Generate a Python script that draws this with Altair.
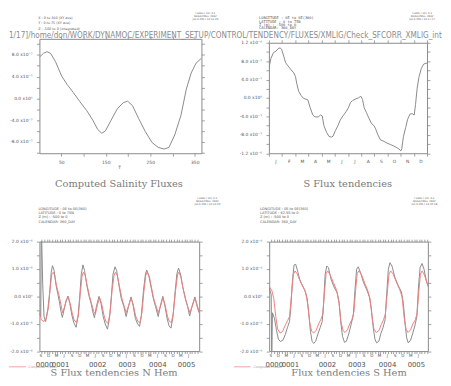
import altair as alt
import pandas as pd

# ---------------- data ----------------
# Panel 1: Computed Salinity Fluxes (units of 1e-7) against T
p1_t = [1, 10, 18, 26, 37, 51, 63, 77, 92, 107, 121, 132, 141, 149, 162, 176, 189, 199, 210,
        224, 239, 254, 268, 281, 292, 305, 319, 331, 342, 353, 365]
p1_v = [7.6, 8.3, 8.6, 8.3, 6.8, 4.1, 2.6, 1.1, -0.6, -2.2, -4.0, -5.7, -6.4, -6.0, -4.0, -1.9,
        -0.8, -0.5, -1.3, -3.7, -6.1, -8.1, -9.0, -9.3, -9.0, -6.7, -3.1, 1.7, 4.7, 6.5, 7.4]

# Panel 2: S Flux tendencies (units of 1e-7) against day of a 360-day year
p2_d = [0, 4.5, 10.4, 15.7, 20.9, 25.3, 29, 34.3, 38, 43.2, 49.2, 56.6, 60.4, 64, 67.8, 73, 79,
        84.2, 88.7, 94, 99.9, 105, 112.5, 117.8, 121.5, 125.2, 131.2, 136.4, 142.4, 146, 151.3,
        157.3, 162.5, 168.4, 175.9, 181.1, 185.6, 190.8, 198.3, 204.2, 209.4, 213.2, 216.9,
        222.1, 228.1, 233.3, 239.2, 243, 248.2, 254.1, 261.6, 269, 276.5, 284, 291.4, 296.6,
        300.4, 302.6, 306.3, 311.5, 316, 321.2, 326.4, 330.9, 333.9, 337.6, 342, 347.2, 352.4, 360]
p2_v = [6.44, 8.58, 9.86, 10.15, 10.7, 10.9, 10.6, 8.9, 7.7, 7.0, 6.3, 5.45, 4.7, 2.9, 1.46, 0.6,
        -0.1, -0.25, -0.4, -2.1, -3.67, -4.1, -4.1, -3.67, -3.9, -6.0, -7.44, -8.3, -8.5, -8.3,
        -7.1, -6.0, -4.8, -3.9, -2.96, -2.1, -1.03, -0.53, -0.18, 0.04, 0.39, -0.3, -2.1, -3.17,
        -4.45, -5.5, -6.0, -6.7, -8.0, -9.1, -9.4, -9.8, -10.1, -10.4, -10.8, -11.1, -11.5, -11.0,
        -8.4, -6.4, -4.6, -3.5, -3.4, -3.7, -1.4, 2.17, 4.66, 6.44, 7.37, 7.6]

# Panel 3: S Flux tendencies N Hem (units of 1e-6), months since start of year 0000
p3_gm = [8.12, 8.63, 8.88, 9.38, 9.89, 10.52, 11.40, 12.16, 12.67, 13.17,
         13.80, 14.43, 15.19, 15.82, 16.45, 16.96, 17.59, 18.35, 19.11, 19.86,
         20.62, 21.38, 22.26, 23.02, 23.65, 24.28, 24.91, 25.54, 26.30, 27.19,
         28.07, 28.70, 29.33, 30.09, 31.10, 31.86, 32.74, 33.50, 34.38, 35.14,
         35.90, 36.53, 37.29, 37.92, 38.80, 39.69, 40.70, 41.58, 42.46, 43.47,
         44.23, 45.12, 46.00, 46.76, 47.39, 48.27, 49.03, 49.53, 50.29, 51.18,
         52.06, 52.94, 53.95, 54.84, 55.72, 56.48, 57.36, 58.12, 58.88, 59.64,
         60.52, 61.15, 61.78, 62.54, 63.42, 64.43, 65.32, 66.07, 66.95, 68.09,
         68.98, 69.70]
p3_gv = [-0.60, -0.74, 2.60, 0.46, -0.74, -0.92, -0.44, 0.22, 0.88, 1.12,
         0.94, 0.46, 0.10, -0.20, -0.56, -0.77, -0.50, -0.20, 0.01, -0.26,
         -0.68, -0.96, -1.13, -0.74, -0.02, 0.82, 1.15, 0.94, 0.46, 0.04,
         -0.26, -0.56, -0.78, -0.38, 0.00, -0.26, -0.74, -1.01, -1.20, -0.80,
         0.04, 0.82, 1.08, 0.94, 0.40, -0.08, -0.38, -0.74, -0.38, -0.02,
         -0.32, -0.80, -1.01, -1.10, -0.74, 0.22, 0.82, 0.96, 0.76, 0.34,
         -0.08, -0.38, -0.74, -0.32, 0.00, -0.32, -0.80, -1.08, -1.16, -0.74,
         0.22, 0.82, 1.03, 0.82, 0.34, -0.08, -0.38, -0.72, -0.38, -0.02,
         -0.38, -0.60]
p3_rm = [8.12, 8.88, 9.89, 10.77, 11.66, 12.29, 12.92, 13.42, 14.05, 14.81,
         15.70, 16.45, 17.08, 17.72, 18.47, 19.23, 19.99, 20.75, 21.50, 22.39,
         23.14, 23.90, 24.53, 25.04, 25.80, 26.55, 27.44, 28.32, 29.08, 29.71,
         30.47, 31.35, 32.11, 33.00, 33.75, 34.51, 35.39, 36.15, 36.91, 37.41,
         38.17, 39.05, 39.94, 40.82, 41.58, 42.59, 43.47, 44.36, 45.24, 46.12,
         46.88, 47.64, 48.40, 49.15, 49.66, 50.54, 51.43, 52.31, 53.20, 53.95,
         54.96, 55.72, 56.61, 57.49, 58.25, 59.01, 59.76, 60.65, 61.41, 61.91,
         62.67, 63.55, 64.56, 65.44, 66.20, 67.21, 68.09, 68.98, 69.70]
p3_rv = [-0.60, -0.86, -0.92, -0.80, -0.38, 0.34, 0.82, 0.88, 0.76, 0.34,
         0.04, -0.32, -0.60, -0.41, -0.14, -0.02, -0.26, -0.60, -0.86, -0.96,
         -0.68, 0.10, 0.72, 0.88, 0.76, 0.40, 0.00, -0.30, -0.56, -0.65,
         -0.32, -0.05, -0.26, -0.68, -0.92, -0.98, -0.62, 0.22, 0.76, 0.88,
         0.76, 0.34, -0.08, -0.36, -0.60, -0.32, -0.06, -0.32, -0.72, -0.92,
         -0.96, -0.62, 0.16, 0.76, 0.88, 0.72, 0.28, -0.12, -0.38, -0.60,
         -0.32, -0.05, -0.32, -0.72, -0.92, -0.96, -0.62, 0.22, 0.79, 0.88,
         0.72, 0.28, -0.14, -0.41, -0.60, -0.32, -0.06, -0.32, -0.56]

# Panel 4: Flux tendencies S Hem (units of 1e-6)
p4_gm = [8.12, 8.90, 9.10, 9.38, 10.14, 10.90, 11.66, 12.41, 13.42, 14.31,
         15.19, 15.95, 16.45, 17.08, 17.72, 18.35, 18.98, 19.86, 20.87, 21.88,
         22.77, 23.40, 24.03, 24.66, 25.29, 26.05, 26.93, 27.82, 28.57, 29.08,
         29.71, 30.34, 30.97, 31.98, 33.12, 34.38, 35.14, 35.77, 36.40, 37.16,
         37.92, 38.80, 39.69, 40.57, 41.20, 41.83, 42.46, 43.35, 44.48, 45.75,
         46.76, 47.51, 48.27, 48.90, 49.53, 50.42, 51.18, 52.06, 52.82, 53.45,
         54.08, 54.71, 55.47, 56.61, 57.87, 59.13, 59.89, 60.52, 61.15, 61.78,
         62.67, 63.42, 64.30, 65.07, 65.70, 66.33, 67.09, 67.85, 68.73, 69.49]
p4_gv = [0.34, 0.05, -2.30, -0.60, -0.80, -1.22, -1.56, -1.65, -1.60, -1.40,
         -1.13, -0.92, -0.44, 0.57, 1.15, 1.17, 0.96, 0.63, 0.40, 0.22,
         -0.08, -0.62, -1.28, -1.64, -1.72, -1.64, -1.37, -1.13, -0.92, -0.26,
         0.81, 1.11, 1.05, 0.63, 0.34, 0.12, -0.26, -0.98, -1.46, -1.68,
         -1.64, -1.37, -1.04, -0.68, 0.22, 0.99, 1.08, 0.87, 0.51, 0.24,
         -0.02, -0.44, -1.16, -1.56, -1.70, -1.64, -1.37, -1.13, -0.86, 0.10,
         0.99, 1.23, 1.11, 0.69, 0.40, 0.16, -0.26, -0.98, -1.52, -1.70,
         -1.60, -1.37, -1.08, -0.74, 0.34, 1.05, 1.20, 0.99, 0.57, 0.36]
p4_rm = [8.12, 9.13, 9.89, 10.65, 11.40, 12.29, 13.30, 14.18, 15.19, 15.95,
         16.71, 17.46, 18.10, 18.98, 19.99, 21.25, 22.26, 23.02, 23.78, 24.53,
         25.29, 26.18, 27.19, 28.07, 28.83, 29.46, 30.09, 30.72, 31.60, 32.87,
         34.13, 35.01, 35.77, 36.65, 37.41, 38.30, 39.18, 40.06, 40.82, 41.45,
         42.08, 42.72, 43.73, 44.99, 46.12, 47.01, 47.77, 48.52, 49.41, 50.42,
         51.30, 52.19, 52.94, 53.70, 54.33, 54.96, 55.97, 57.23, 58.50, 59.38,
         60.14, 60.90, 61.66, 62.67, 63.55, 64.43, 65.19, 65.82, 66.45, 67.09,
         67.97, 68.73, 69.49]
p4_rv = [0.36, 0.22, -0.08, -0.74, -1.20, -1.34, -1.28, -1.08, -0.89, -0.74,
         0.04, 0.81, 0.93, 0.81, 0.57, 0.34, 0.12, -0.32, -0.98, -1.28,
         -1.34, -1.25, -1.01, -0.84, -0.65, 0.16, 0.84, 0.93, 0.79, 0.51,
         0.22, -0.20, -0.92, -1.26, -1.32, -1.22, -1.01, -0.84, -0.56, 0.22,
         0.84, 0.93, 0.79, 0.48, 0.22, -0.08, -0.74, -1.20, -1.32, -1.25,
         -1.04, -0.86, -0.65, 0.16, 0.81, 0.93, 0.81, 0.51, 0.24, -0.02,
         -0.74, -1.20, -1.32, -1.22, -1.01, -0.86, -0.62, 0.16, 0.81, 0.93,
         0.79, 0.57, 0.34]

# ---------------- tick labels ----------------
p1_xticks = [50, 100, 150, 200, 250, 300, 350]
p1_xlabels = ["50", "", "150", "", "250", "", "350"]
p1_yticks = [-10, -8, -6, -4, -2, 0, 2, 4, 6, 8, 10]
p1_ylab_vals = [8, 4, 0, -4, -8]
p1_ylab_txt = ["8.0 x10⁻⁷", "4.0 x10⁻⁷", "0.0 x10⁰", "-4.0 x10⁻⁷", "-8.0 x10⁻⁷"]

p2_bounds = [0, 30, 60, 90, 120, 150, 180, 210, 240, 270, 300, 330, 360]
p2_mid = [15, 45, 75, 105, 135, 165, 195, 225, 255, 285, 315, 345]
p2_months = ["J", "F", "M", "A", "M", "J", "J", "A", "S", "O", "N", "D"]
p2_yticks = [-12, -10, -8, -6, -4, -2, 0, 2, 4, 6, 8, 10, 12]
p2_ylab_vals = [12, 8, 4, 0, -4, -8, -12]
p2_ylab_txt = ["1.2 x10⁻⁶", "8.0 x10⁻⁷", "4.0 x10⁻⁷", "0.0 x10⁰", "-4.0 x10⁻⁷", "-8.0 x10⁻⁷", "-1.2 x10⁻⁶"]

ts_month_ticks = list(range(9, 70))
ts_letter_pos = [8.5 + 3 * k for k in range(20)]
ts_letters = ["S", "D", "M", "J"] * 5
ts_year_pos = [9.9, 16.1, 30.4, 41.8, 53.6, 64.7]
ts_years = ["0000", "0001", "0002", "0003", "0004", "0005"]
ts_yticks = [-2, -1.5, -1, -0.5, 0, 0.5, 1, 1.5, 2]
ts_ylab_vals = [2, 1, 0, -1, -2]
ts_ylab_txt = ["2.0 x10⁻⁶", "1.0 x10⁻⁶", "0.0 x10⁰", "-1.0 x10⁻⁶", "-2.0 x10⁻⁶"]

path_text = "1/17]/home/don/WORK/DYNAMOC/EXPERIMENT_SETUP/CONTROL/TENDENCY/FLUXES/XMLIG/Check_SFCORR_XMLIG_int"

GREY = "#8a8a8a"
RED = "#ee8080"
TXT = "#555555"
SANS = "DejaVu Sans"
MONO = "DejaVu Sans Mono"
SERIF = "DejaVu Serif"
PATH_FONT = "DejaVu Sans Condensed, Liberation Sans Narrow, DejaVu Sans"


def lookup_expr(vals, txts):
    e = "''"
    for v, t in zip(reversed(vals), reversed(txts)):
        e = f"datum.value == {v} ? '{t}' : {e}"
    return e


def txt(s, x, y, size=4, color=TXT, align="left", baseline="middle", font=SANS, clip=False):
    mk = dict(align=align, baseline=baseline, font=font, fontSize=size, color=color)
    if clip:
        mk["clip"] = True
    return alt.Chart(pd.DataFrame({"s": [s]})).mark_text(**mk).encode(
        x=alt.value(x), y=alt.value(y), text="s:N")


def lines(strs, x, y0, dy, **kw):
    return [txt(s, x, y0 + i * dy, **kw) for i, s in enumerate(strs)]


def ax(**kw):
    base = dict(title=None, grid=False, domain=False, labelOverlap=False, labelFlush=False,
                labelBound=False, tickColor="#8a8a8a", tickWidth=0.8, labelColor=TXT,
                labelFont=SANS, labelFontSize=4.5)
    base.update(kw)
    return alt.Axis(**base)


def ferret(x, y, stamp):
    return lines(["FERRET Ver. 6.1", "NOAA/PMEL TMAP", stamp], x, y, 2.9, size=2.6,
                 align="center", baseline="top")


NOFRAME = alt.ViewBackground(stroke="transparent", strokeWidth=0)

# ---------------- panel 1 ----------------
W1, H1 = 165, 116.5
d1 = pd.DataFrame({"t": p1_t, "v": p1_v})
xs1 = alt.Scale(domain=[1, 365], nice=False, zero=False)
ys1 = alt.Scale(domain=[-10.07, 10.96], nice=False, zero=False)
p1_line = alt.Chart(d1).mark_line(color=GREY, strokeWidth=1, clip=True).encode(
    x=alt.X("t:Q", scale=xs1, axis=ax(orient="bottom", values=p1_xticks,
                                      labelExpr=lookup_expr(p1_xticks, p1_xlabels),
                                      tickSize=3, labelPadding=3)),
    y=alt.Y("v:Q", scale=ys1, axis=ax(orient="left", values=p1_yticks,
                                      labelExpr=lookup_expr(p1_ylab_vals, p1_ylab_txt),
                                      tickSize=3, labelPadding=4.5)))
p1_frame = alt.Chart(d1).mark_line(opacity=0).encode(
    x=alt.X("t:Q", scale=xs1, axis=ax(orient="top", values=p1_xticks, labels=False, tickSize=3)),
    y=alt.Y("v:Q", scale=ys1, axis=ax(orient="right", values=p1_yticks, labels=False, tickSize=3)))
p1 = alt.layer(
    p1_line, p1_frame,
    *lines(["X : 0 to 360 (XY ave)", "Y : 0 to 75 (XY ave)", "Z : -500 to 0 (integrated)"],
           -1.3, -21.5, 5.5, size=3.4),
    *ferret(169, -27, "Jan 6 2017 16:11:26"),
    txt(path_text, -31, -1, size=8.25, color="#8c8c8c", baseline="alphabetic", font=PATH_FONT),
    txt("T", 80.3, 131.5, size=4.5),
    txt("Computed Salinity Fluxes", 81, 151, size=10, color="#7a7a7a", align="center",
        baseline="alphabetic", font=SERIF),
).resolve_axis(x="independent", y="independent").properties(width=W1, height=H1)

# ---------------- panel 2 ----------------
W2, H2 = 161, 112.5
d2 = pd.DataFrame({"d": p2_d, "v": p2_v})
xs2 = alt.Scale(domain=[0, 360], nice=False, zero=False)
ys2 = alt.Scale(domain=[-12, 12], nice=False, zero=False)
month_expr = "[" + ",".join(f"'{m}'" for m in p2_months) + "][floor(datum.value/30)]"
p2_line = alt.Chart(d2).mark_line(color=GREY, strokeWidth=1, clip=True).encode(
    x=alt.X("d:Q", scale=xs2, axis=ax(orient="bottom", values=p2_bounds, labels=False, tickSize=3)),
    y=alt.Y("v:Q", scale=ys2, axis=ax(orient="left", values=p2_yticks,
                                      labelExpr=lookup_expr(p2_ylab_vals, p2_ylab_txt),
                                      tickSize=3, labelPadding=4.5)))
p2_frame = alt.Chart(d2).mark_line(opacity=0).encode(
    x=alt.X("d:Q", scale=xs2, axis=ax(orient="top", values=p2_bounds, labels=False, tickSize=3)),
    y=alt.Y("v:Q", scale=ys2, axis=ax(orient="right", values=p2_yticks, labels=False, tickSize=3)))
p2_months_layer = alt.Chart(d2).mark_line(opacity=0).encode(
    x=alt.X("d:Q", scale=xs2, axis=ax(orient="bottom", values=p2_mid, labelExpr=month_expr,
                                      ticks=False, labelPadding=5)),
    y=alt.Y("v:Q", scale=ys2, axis=None))
p2 = alt.layer(
    p2_line, p2_frame, p2_months_layer,
    *lines(["LONGITUDE : 0E to 0E(360)", "LATITUDE : 0 to 75N", "Z (m) : -500 to 0",
            "CALENDAR: 360_DAY"], -10, -25, 3.4, size=3.7, font=MONO),
    *ferret(156, -31, "Jan 6 2017 16:17:37"),
    txt("S Flux tendencies", 80.3, 146.5, size=10, color="#7a7a7a", align="center",
        baseline="alphabetic", font=SERIF),
).resolve_axis(x="independent", y="independent").properties(width=W2, height=H2)

spacer = txt("", 0, 0).properties(width=1, height=1, view=NOFRAME)
p2_col = alt.vconcat(spacer, p2, spacing=3, bounds="flush")


# ---------------- panels 3 and 4 (time series) ----------------
def ts_panel(gm, gv, rm, rv, W, H, xmax, lat, stamp, ferret_x, hdr_x, leg_x0):
    dg = pd.DataFrame({"m": gm, "v": gv})
    dr = pd.DataFrame({"m": rm, "v": rv})
    xs = alt.Scale(domain=[8.12, xmax], nice=False, zero=False)
    ys = alt.Scale(domain=[-2, 2], nice=False, zero=False)
    letter_expr = "[" + ",".join(f"'{s}'" for s in ts_letters) + "][round((datum.value-8.5)/3)]"
    year_expr = "[" + ",".join(f"'{s}'" for s in ts_years) + "][floor(datum.value/12)]"
    grey = alt.Chart(dg).mark_line(color=GREY, strokeWidth=1, clip=True).encode(
        x=alt.X("m:Q", scale=xs, axis=ax(orient="bottom", values=ts_month_ticks, labels=False,
                                         tickSize=2.5)),
        y=alt.Y("v:Q", scale=ys, axis=ax(orient="left", values=ts_yticks,
                                         labelExpr=lookup_expr(ts_ylab_vals, ts_ylab_txt),
                                         tickSize=3, labelPadding=4.5)))
    red = alt.Chart(dr).mark_line(color=RED, strokeWidth=1, clip=True).encode(
        x=alt.X("m:Q", scale=xs, axis=ax(orient="top", values=ts_month_ticks, labels=False,
                                         tickSize=2.5)),
        y=alt.Y("v:Q", scale=ys, axis=ax(orient="right", values=ts_yticks, labels=False,
                                         tickSize=3)))
    letters = alt.Chart(dg).mark_line(opacity=0).encode(
        x=alt.X("m:Q", scale=xs, axis=ax(orient="bottom", values=ts_letter_pos,
                                         labelExpr=letter_expr, ticks=False, labelPadding=3,
                                         labelFontSize=4.2)),
        y=alt.Y("v:Q", scale=ys, axis=None))
    years = alt.Chart(dg).mark_line(opacity=0).encode(
        x=alt.X("m:Q", scale=xs, axis=ax(orient="bottom", values=ts_year_pos,
                                         labelExpr=year_expr, ticks=False, labelPadding=10,
                                         labelFontSize=7, labelColor="#505050")),
        y=alt.Y("v:Q", scale=ys, axis=None))
    leg = alt.Chart(pd.DataFrame({"s": ["Computed Fluxes"]})).mark_rule(
        color="#f3a0a0", strokeWidth=1).encode(
        x=alt.value(leg_x0), x2=alt.value(leg_x0 + 17), y=alt.value(127.5))
    return alt.layer(
        grey, red, letters, years, leg,
        txt("Computed Fluxes", leg_x0 + 20, 127.5, size=3.3, color="#9a9a9a"),
        *lines(["LONGITUDE : 0E to 0E(360)", "LATITUDE : " + lat, "Z (m) : -500 to 0",
                "CALENDAR: 360_DAY"], hdr_x, -33, 4.2, size=3.6),
        *ferret(ferret_x, -45.5, stamp),
    ).resolve_axis(x="independent", y="independent").properties(width=W, height=H)


def title_strip(title, W, cx):
    return txt(title, cx, 7.9, size=10, color="#7a7a7a", align="center",
               baseline="alphabetic", font=SERIF, clip=True).properties(
        width=W, height=8, view=NOFRAME)


p3 = ts_panel(p3_gm, p3_gv, p3_rm, p3_rv, 162.7, 111.5, 69.75, "0 to 75N",
              "Jan 6 2017 16:13:22", 171, -1, -31)
p4 = ts_panel(p4_gm, p4_gv, p4_rm, p4_rv, 161.6, 111.5, 69.33, "62.5S to 0",
              "Jan 6 2017 16:22:19", 158, -9.4, -36)

top = alt.hconcat(p1, p2_col, spacing=68.7, bounds="flush")
bottom = alt.hconcat(p3, p4, spacing=71, bounds="flush")
titles = alt.hconcat(title_strip("S Flux tendencies N Hem", 162.7, 76),
                     title_strip("Flux tendencies S Hem", 161.6, 81.3),
                     spacing=71, bounds="flush")
lower = alt.vconcat(bottom, titles, spacing=128.5, bounds="flush")
chart = alt.vconcat(top, lower, spacing=206.5, bounds="flush").properties(
    padding=0, background="white"
).configure_view(stroke="#8a8a8a", strokeWidth=1)

chart.save("out.html", embed_options={"renderer": "svg", "actions": False})
